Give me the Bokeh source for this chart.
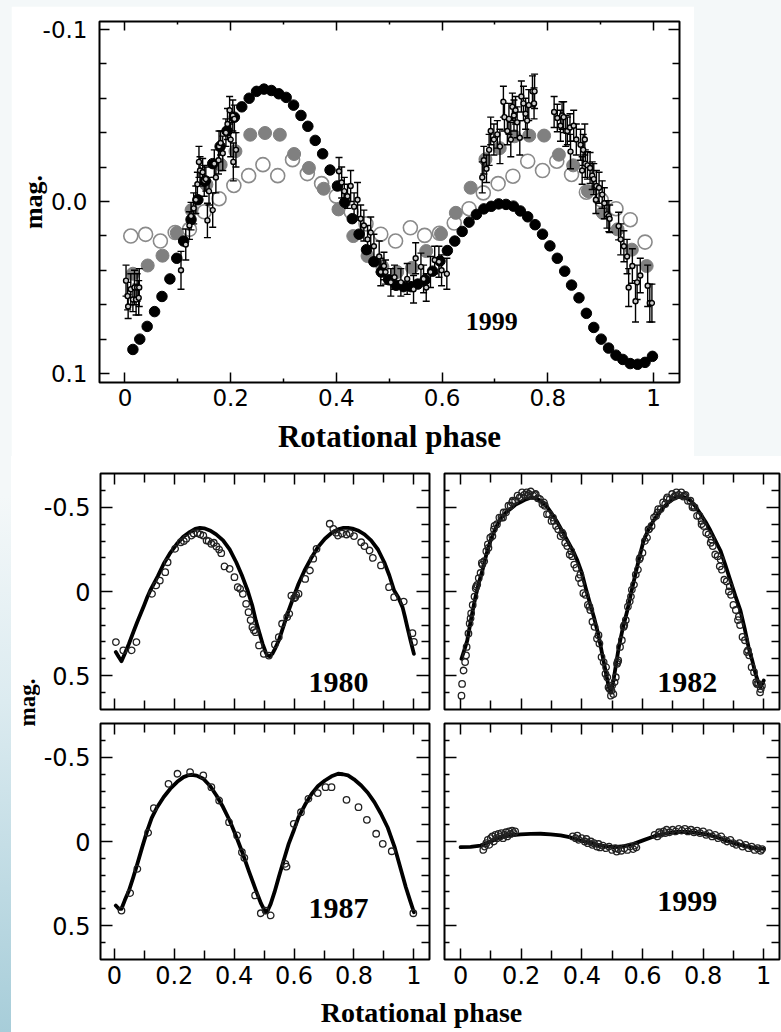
from bokeh.plotting import figure
from bokeh.models import Range1d, LinearAxis, FixedTicker, Spacer
from bokeh.layouts import row, column
from bokeh.embed import file_html
from bokeh.resources import INLINE
from bokeh.core.properties import value

# ---------------- DATA: top panel (1999, models) ----------------
top_black_phase = [0.015,0.028,0.042,0.056,0.070,0.085,0.098,0.111,0.125,0.138,0.152,0.166,0.180,0.193,0.207,
                   0.221,0.235,0.249,0.263,0.277,0.291,0.305,0.319,0.333,0.346,0.360,0.374,0.388,0.402,0.416,
                   0.430,0.443,0.457,0.471,0.485,0.499,0.513,0.527,0.541,0.554,0.568,0.582,0.596,0.610,0.624,
                   0.638,0.651,0.665,0.679,0.693,0.707,0.721,0.735,0.748,0.762,0.776,0.790,0.804,0.818,0.832,
                   0.845,0.859,0.873,0.887,0.901,0.915,0.929,0.942,0.956,0.970,0.984,0.998]
top_black_mag = [0.086,0.080,0.0726,0.064,0.0552,0.045,0.033,0.023,0.0105,-0.001,-0.012,-0.022,-0.032,-0.041,-0.049,
                 -0.055,-0.060,-0.064,-0.0653,-0.0645,-0.0626,-0.0605,-0.056,-0.050,-0.0437,-0.0355,-0.0277,-0.0183,-0.009,0.0005,
                 0.010,0.019,0.028,0.035,0.041,0.0455,0.0487,0.0495,0.0495,0.048,0.0455,0.0405,0.0346,0.0285,0.023,
                 0.0174,0.012,0.0075,0.0043,0.0028,0.0014,0.0017,0.0027,0.0055,0.0089,0.0135,0.019,0.0258,0.033,0.0405,
                 0.0486,0.056,0.065,0.0732,0.080,0.0852,0.0893,0.0918,0.0942,0.0946,0.0935,0.090]

top_gray_phase = [0.015,0.043,0.071,0.098,0.126,0.154,0.181,0.209,0.237,0.265,0.293,0.320,0.348,0.376,0.404,0.432,0.459,0.487,
                  0.515,0.543,0.570,0.598,0.626,0.654,0.682,0.709,0.737,0.765,0.793,0.821,0.848,0.876,0.904,0.932,0.959,0.987]
top_gray_mag = [0.042,0.0372,0.0315,0.0182,0.005,-0.0099,-0.0214,-0.0292,-0.0388,-0.0398,-0.0388,-0.0276,-0.0195,-0.0074,0.0046,0.0201,0.0317,0.038,
                0.041,0.0385,0.0288,0.0188,0.0066,-0.008,-0.0245,-0.031,-0.0379,-0.0383,-0.0383,-0.0272,-0.021,-0.006,0.0066,0.0162,0.028,0.0375]

top_open_phase = [0.011,0.039,0.067,0.095,0.122,0.150,0.178,0.206,0.234,0.261,0.289,0.317,0.345,0.372,0.400,0.428,0.456,0.484,
                  0.512,0.540,0.567,0.595,0.623,0.651,0.678,0.706,0.734,0.762,0.790,0.817,0.845,0.873,0.901,0.929,0.956,0.984]
top_open_mag = [0.0201,0.0191,0.023,0.018,0.0162,0.006,-0.0016,-0.0093,-0.015,-0.0214,-0.015,-0.0243,-0.0162,-0.0104,-0.0031,0.006,0.013,0.019,
                0.023,0.0153,0.0197,0.0185,0.0125,0.0042,-0.005,-0.0104,-0.0147,-0.0234,-0.018,-0.0234,-0.0157,-0.0054,-0.001,0.0042,0.0106,0.0236]

top_obs_phase = [0.002,0.005,0.006,0.011,0.015,0.018,0.021,0.023,0.026,0.027,
                 0.106,0.115,0.122,0.125,0.130,0.134,0.137,0.140,0.142,0.147,0.150,0.153,0.156,0.159,0.166,0.169,0.172,0.177,0.178,0.181,
                 0.185,0.191,0.194,0.198,0.200,0.204,0.205,0.207,0.210,
                 0.405,0.410,0.415,0.421,0.427,0.4335,0.440,0.446,0.452,0.459,0.465,0.471,0.481,0.484,0.490,0.493,0.503,0.510,0.522,0.534,
                 0.546,0.550,0.560,0.565,0.570,0.578,0.586,0.594,0.599,0.609,
                 0.676,0.679,0.684,0.689,0.692,0.698,0.7045,0.7095,0.716,0.718,0.7235,0.7265,0.730,0.733,0.736,0.739,0.742,0.747,0.750,
                 0.754,0.758,0.761,0.764,0.771,0.775,0.774,
                 0.812,0.818,0.824,0.827,0.830,0.834,0.837,0.842,0.843,0.849,0.854,0.862,0.865,0.867,0.870,0.871,0.875,0.880,0.884,0.887,
                 0.891,0.892,0.897,0.903,0.907,0.912,0.9155,0.917,0.934,0.938,0.944,0.950,0.953,0.960,0.966,0.969,0.975,0.989,0.993,0.997]
top_obs_mag = [0.046,0.055,0.061,0.051,0.057,0.050,0.057,0.050,0.056,0.050,
               0.040,0.025,0.014,0.0085,0.004,-0.001,-0.010,-0.023,-0.018,-0.017,-0.012,-0.013,0.011,-0.006,0.005,-0.022,-0.014,-0.024,-0.032,-0.034,
               -0.028,-0.040,-0.045,-0.053,-0.036,-0.050,-0.023,-0.048,-0.030,
               -0.0176,-0.011,-0.006,-0.003,-0.009,0.003,-0.001,0.010,0.014,0.022,0.018,0.026,0.032,0.041,0.0375,0.041,0.047,0.044,0.047,0.045,
               0.051,0.033,0.038,0.045,0.050,0.041,0.034,0.035,0.040,0.042,
               -0.014,-0.024,-0.019,-0.030,-0.041,-0.036,-0.039,-0.032,-0.058,-0.049,-0.041,-0.048,-0.036,-0.055,-0.050,-0.053,-0.046,-0.037,-0.061,
               -0.057,-0.051,-0.047,-0.056,-0.064,-0.064,-0.057,
               -0.052,-0.0485,-0.044,-0.050,-0.049,-0.041,-0.041,-0.043,-0.029,-0.044,-0.036,-0.033,-0.018,-0.030,-0.036,-0.022,-0.021,-0.0195,-0.015,-0.013,
               -0.001,-0.009,-0.008,-0.004,0.001,0.0075,0.0085,0.010,0.0143,0.022,0.026,0.032,0.050,0.0375,0.058,0.047,0.043,0.049,0.059,0.059]
top_obs_err = [0.009,0.008,0.007,0.009,0.007,0.010,0.009,0.008,0.010,0.011,
               0.011,0.009,0.008,0.008,0.009,0.008,0.007,0.009,0.008,0.008,0.009,0.007,0.010,0.008,0.010,0.008,0.009,0.008,0.009,0.007,
               0.010,0.008,0.009,0.008,0.010,0.009,0.011,0.008,0.010,
               0.008,0.009,0.008,0.007,0.009,0.008,0.010,0.008,0.009,0.008,0.009,0.007,0.009,0.008,0.008,0.007,0.008,0.007,0.008,0.009,
               0.008,0.009,0.008,0.008,0.008,0.009,0.008,0.009,0.009,0.009,
               0.009,0.008,0.008,0.009,0.008,0.009,0.008,0.010,0.009,0.008,0.008,0.009,0.010,0.008,0.009,0.008,0.009,0.010,0.009,
               0.010,0.009,0.010,0.009,0.009,0.010,0.009,
               0.009,0.008,0.009,0.008,0.009,0.009,0.008,0.008,0.010,0.009,0.009,0.009,0.008,0.009,0.009,0.008,0.008,0.009,0.008,0.009,
               0.008,0.009,0.009,0.008,0.009,0.008,0.009,0.008,0.008,0.009,0.009,0.010,0.011,0.010,0.012,0.010,0.010,0.012,0.011,0.011]

# ---------------- DATA: 1980 ----------------
m80_phase = [0.005,0.015,0.024,0.035,0.049,0.065,0.077,0.088,0.10,0.11,0.12,0.132,0.145,0.165,0.185,0.209,0.23,0.253,0.27,0.286,
             0.30,0.319,0.34,0.363,0.385,0.407,0.425,0.445,0.46,0.4725,0.485,0.495,0.505,0.511,0.518,0.5275,0.538,0.549,0.565,0.582,
             0.60,0.615,0.635,0.659,0.68,0.703,0.725,0.747,0.765,0.78,0.795,0.813,0.835,0.857,0.88,0.901,0.918,0.934,0.948,0.962,
             0.97,0.978,0.99,1.0]
m80_mag = [0.36,0.39,0.415,0.37,0.311,0.235,0.18,0.133,0.08,0.034,-0.006,-0.046,-0.09,-0.165,-0.225,-0.284,-0.325,-0.355,-0.372,-0.379,
           -0.376,-0.363,-0.34,-0.304,-0.25,-0.174,-0.10,-0.006,0.08,0.173,0.25,0.311,0.36,0.381,0.385,0.371,0.335,0.292,0.205,0.113,
           0.025,-0.046,-0.125,-0.204,-0.265,-0.314,-0.348,-0.37,-0.379,-0.379,-0.374,-0.363,-0.34,-0.304,-0.25,-0.174,-0.095,-0.006,0.035,0.093,
           0.15,0.212,0.30,0.371]
o80_phase = [0.0055,0.03,0.058,0.074,0.126,0.14,0.152,0.17,0.178,0.203,0.222,0.232,0.24,0.258,0.265,0.278,0.287,0.297,0.308,0.315,
             0.324,0.332,0.341,0.35,0.357,0.368,0.385,0.401,0.412,0.42,0.429,0.44,0.448,0.455,0.461,0.466,0.472,0.483,0.499,0.516,
             0.536,0.549,0.56,0.577,0.584,0.591,0.60,0.604,0.607,0.615,0.637,0.653,0.664,0.675,0.719,0.731,0.74,0.747,0.76,0.775,
             0.786,0.80,0.824,0.835,0.852,0.863,0.89,0.917,0.934,0.966,0.995,1.0]
o80_mag = [0.301,0.35,0.35,0.301,0.014,-0.036,-0.065,-0.115,-0.174,-0.254,-0.293,-0.30,-0.314,-0.333,-0.345,-0.347,-0.34,-0.333,-0.304,-0.30,
           -0.284,-0.29,-0.268,-0.25,-0.228,-0.149,-0.135,-0.085,-0.026,-0.016,0.014,0.073,0.123,0.17,0.212,0.23,0.242,0.321,0.371,0.381,
           0.315,0.272,0.192,0.153,0.133,0.024,0.04,0.034,0.02,0.014,-0.075,-0.125,-0.195,-0.254,-0.403,-0.373,-0.35,-0.333,-0.345,-0.339,
           -0.347,-0.33,-0.293,-0.27,-0.244,-0.2,-0.155,-0.026,0.034,0.06,0.248,0.30]

# ---------------- DATA: 1982 ----------------
m82_phase = [0.003,0.012,0.022,0.035,0.049,0.06,0.072,0.085,0.099,0.115,0.132,0.148,0.165,0.18,0.198,0.215,0.231,0.242,0.253,0.27,
             0.286,0.302,0.319,0.335,0.352,0.37,0.385,0.40,0.412,0.425,0.44,0.455,0.467,0.478,0.489,0.497,0.506,0.514,0.522,0.535,
             0.55,0.563,0.577,0.59,0.604,0.62,0.637,0.653,0.67,0.686,0.703,0.717,0.731,0.745,0.758,0.775,0.791,0.808,0.824,0.84,
             0.857,0.873,0.89,0.906,0.923,0.937,0.95,0.962,0.973,0.981,0.989,0.995,1.0]
m82_mag = [0.40,0.35,0.292,0.16,0.034,-0.05,-0.125,-0.22,-0.304,-0.375,-0.433,-0.467,-0.492,-0.515,-0.532,-0.548,-0.558,-0.557,-0.552,-0.53,
           -0.502,-0.46,-0.413,-0.36,-0.304,-0.245,-0.185,-0.11,-0.026,0.06,0.153,0.26,0.371,0.47,0.57,0.60,0.51,0.42,0.331,0.22,
           0.113,0.005,-0.105,-0.205,-0.304,-0.37,-0.423,-0.465,-0.502,-0.53,-0.552,-0.562,-0.565,-0.556,-0.542,-0.505,-0.462,-0.415,-0.363,-0.305,
           -0.244,-0.16,-0.065,0.025,0.113,0.22,0.331,0.41,0.49,0.535,0.57,0.55,0.53]
o82_phase = [0.003,0.005,0.010,0.015,0.020,0.026,0.030,0.035,0.040,0.046,0.050,0.055,0.060,0.066,0.072,0.078,0.085,0.092,0.098,0.105,
             0.112,0.120,0.128,0.135,0.142,0.150,0.158,0.165,0.172,0.180,0.188,0.195,0.203,0.210,0.218,0.225,0.232,0.240,0.248,0.255,
             0.262,0.270,0.278,0.285,0.292,0.300,0.308,0.315,0.322,0.330,0.338,0.345,0.352,0.360,0.368,0.375,0.382,0.390,0.398,0.405,
             0.412,0.420,0.428,0.435,0.442,0.450,0.458,0.465,0.472,0.478,0.484,0.488,0.492,0.496,0.500,0.504,0.508,0.512,0.516,0.520,
             0.526,0.532,0.538,0.545,0.552,0.558,0.565,0.572,0.578,0.585,0.592,0.600,0.608,0.615,0.622,0.630,0.638,0.645,0.652,0.660,
             0.668,0.675,0.682,0.690,0.698,0.705,0.712,0.720,0.728,0.735,0.742,0.750,0.758,0.765,0.772,0.780,0.788,0.795,0.802,0.810,
             0.818,0.825,0.832,0.840,0.848,0.855,0.862,0.870,0.878,0.885,0.892,0.900,0.908,0.915,0.922,0.930,0.938,0.945,0.952,0.960,
             0.968,0.975,0.982,0.988,0.994,
             0.018,0.033,0.052,0.070,0.090,0.110,0.140,0.170,0.200,0.222,0.245,0.275,0.305,0.335,0.365,0.395,0.425,0.455,0.480,0.498,
             0.518,0.540,0.562,0.590,0.620,0.650,0.680,0.710,0.738,0.765,0.795,0.828,0.858,0.888,0.918,0.948,0.978,0.990]
o82_mag = [0.62,0.55,0.47,0.42,0.33,0.25,0.19,0.13,0.08,0.03,-0.02,-0.04,-0.08,-0.11,-0.16,-0.18,-0.24,-0.26,-0.32,-0.33,
           -0.39,-0.40,-0.44,-0.44,-0.47,-0.47,-0.51,-0.51,-0.54,-0.54,-0.57,-0.56,-0.59,-0.575,-0.59,-0.58,-0.595,-0.57,-0.58,-0.555,
           -0.55,-0.52,-0.51,-0.46,-0.46,-0.42,-0.42,-0.39,-0.37,-0.33,-0.34,-0.29,-0.27,-0.22,-0.21,-0.16,-0.14,-0.08,-0.05,0.01,
           0.02,0.08,0.11,0.18,0.21,0.28,0.31,0.39,0.42,0.49,0.51,0.57,0.58,0.62,0.56,0.61,0.54,0.51,0.43,0.41,
           0.33,0.29,0.21,0.17,0.09,0.06,-0.01,-0.04,-0.10,-0.13,-0.20,-0.23,-0.30,-0.32,-0.37,-0.39,-0.44,-0.45,-0.49,-0.49,
           -0.53,-0.52,-0.56,-0.55,-0.58,-0.565,-0.59,-0.575,-0.59,-0.565,-0.575,-0.54,-0.54,-0.50,-0.50,-0.45,-0.45,-0.40,-0.39,-0.35,
           -0.34,-0.29,-0.27,-0.22,-0.21,-0.15,-0.13,-0.07,-0.06,0.00,0.02,0.08,0.11,0.17,0.20,0.27,0.29,0.36,0.38,0.45,
           0.48,0.54,0.55,0.60,0.56,
           0.38,0.16,-0.03,-0.17,-0.28,-0.37,-0.44,-0.53,-0.56,-0.57,-0.575,-0.53,-0.44,-0.35,-0.24,-0.10,0.09,0.26,0.45,0.59,
           0.42,0.20,0.03,-0.19,-0.37,-0.47,-0.55,-0.57,-0.57,-0.51,-0.42,-0.31,-0.19,-0.03,0.15,0.35,0.55,0.58]

# ---------------- DATA: 1987 ----------------
m87_phase = [0.005,0.015,0.024,0.035,0.049,0.063,0.077,0.093,0.11,0.125,0.143,0.165,0.187,0.21,0.231,0.245,0.258,0.275,0.297,0.32,
             0.341,0.363,0.385,0.407,0.429,0.45,0.473,0.49,0.505,0.512,0.522,0.535,0.549,0.565,0.582,0.60,0.615,0.637,0.659,0.68,
             0.703,0.725,0.747,0.763,0.780,0.80,0.824,0.846,0.868,0.89,0.912,0.935,0.956,0.973,0.987,1.0]
m87_mag = [0.381,0.40,0.40,0.35,0.292,0.215,0.133,0.035,-0.065,-0.14,-0.204,-0.265,-0.314,-0.355,-0.383,-0.393,-0.397,-0.392,-0.373,-0.33,
           -0.274,-0.205,-0.125,-0.03,0.073,0.18,0.292,0.37,0.421,0.41,0.371,0.30,0.212,0.115,0.014,-0.07,-0.145,-0.22,-0.284,-0.33,
           -0.363,-0.388,-0.403,-0.40,-0.393,-0.37,-0.333,-0.29,-0.234,-0.165,-0.085,0.03,0.163,0.272,0.35,0.421]
o87_phase = [0.024,0.053,0.077,0.113,0.132,0.181,0.211,0.253,0.297,0.324,0.35,0.383,0.41,0.426,0.434,0.47,0.489,0.505,0.522,
             0.571,0.575,0.599,0.623,0.648,0.679,0.705,0.725,0.775,0.815,0.843,0.874,0.896,0.926,0.998]
o87_mag = [0.411,0.307,0.163,-0.052,-0.198,-0.343,-0.403,-0.413,-0.393,-0.323,-0.244,-0.115,-0.036,0.064,0.097,0.321,0.427,0.411,0.44,
           0.133,0.150,-0.105,-0.174,-0.254,-0.288,-0.323,-0.323,-0.248,-0.204,-0.129,-0.046,0.014,0.058,0.427]

# ---------------- DATA: 1999 (bottom) ----------------
m99_phase = [0.0,0.033,0.066,0.1,0.132,0.165,0.198,0.231,0.264,0.297,0.33,0.363,0.396,0.43,0.462,0.505,0.54,0.571,0.604,0.637,
             0.67,0.703,0.73,0.758,0.79,0.824,0.857,0.89,0.923,0.956,0.98,1.0]
m99_mag = [0.034,0.032,0.024,0.0,-0.026,-0.036,-0.042,-0.045,-0.046,-0.042,-0.036,-0.024,-0.006,0.01,0.024,0.034,0.027,0.014,-0.008,-0.03,
           -0.045,-0.056,-0.058,-0.056,-0.048,-0.036,-0.018,0.004,0.02,0.034,0.04,0.044]
o99_phase = [0.075,0.08,0.085,0.09,0.095,0.10,0.105,0.11,0.115,0.12,0.125,0.13,0.135,0.14,0.145,0.15,0.155,0.16,0.165,0.17,0.175,0.18,
             0.37,0.38,0.385,0.39,0.40,0.41,0.415,0.42,0.43,0.435,0.44,0.45,0.455,0.46,0.47,0.48,0.49,0.50,0.51,0.515,0.52,0.53,
             0.54,0.55,0.56,0.57,0.575,0.58,
             0.64,0.65,0.655,0.66,0.67,0.675,0.68,0.69,0.70,0.71,0.72,0.73,0.74,0.75,0.76,0.77,0.78,0.79,0.80,0.81,0.82,0.83,
             0.84,0.85,0.86,0.87,0.88,0.89,0.90,0.91,0.92,0.93,0.94,0.95,0.96,0.97,0.98,0.99,0.995]
o99_mag = [0.05,0.03,0.01,-0.01,0.02,-0.02,-0.03,0.0,-0.04,-0.02,-0.045,-0.03,-0.05,-0.02,-0.04,-0.055,-0.03,-0.06,-0.045,-0.065,-0.05,-0.06,
           -0.03,-0.02,-0.035,-0.01,-0.02,0.0,-0.015,0.01,0.0,0.02,0.01,0.03,0.015,0.035,0.025,0.04,0.03,0.05,0.04,0.06,0.045,0.055,
           0.04,0.05,0.03,0.045,0.025,0.035,
           -0.04,-0.03,-0.055,-0.045,-0.06,-0.05,-0.07,-0.055,-0.07,-0.06,-0.075,-0.065,-0.075,-0.06,-0.07,-0.055,-0.065,-0.05,-0.06,-0.04,-0.05,-0.03,
           -0.04,-0.02,-0.03,-0.01,0.0,-0.01,0.01,0.02,0.01,0.03,0.02,0.04,0.03,0.05,0.04,0.055,0.045]

# ---------------- helpers ----------------
SANS = "DejaVu Sans"
SERIF = "Liberation Serif"


def make_axis(ticks, minor, tin, minor_in, labels=None, font_px=22, standoff=8):
    ax = LinearAxis(ticker=FixedTicker(ticks=ticks, minor_ticks=minor))
    ax.axis_line_color = None
    ax.major_tick_in = tin
    ax.major_tick_out = 0
    ax.minor_tick_in = minor_in
    ax.minor_tick_out = 0
    ax.major_tick_line_color = "black"
    ax.minor_tick_line_color = "black"
    ax.major_tick_line_width = 1.5
    ax.minor_tick_line_width = 1.5
    if labels is None:
        ax.major_label_overrides = {t: "" for t in ticks}
        ax.major_label_text_font_size = "0px"
        ax.major_label_standoff = 0
    else:
        ax.major_label_overrides = dict(zip(ticks, labels))
        ax.major_label_text_font = SANS
        ax.major_label_text_font_size = f"{font_px}px"
        ax.major_label_text_color = "black"
        ax.major_label_standoff = standoff
    return ax


def base_fig(w, h, xr, yr, bl, br, bt, bb):
    p = figure(width=w, height=h, x_range=Range1d(*xr), y_range=Range1d(*yr),
               output_backend="svg", toolbar_location=None,
               x_axis_location=None, y_axis_location=None,
               min_border_left=bl, min_border_right=br, min_border_top=bt, min_border_bottom=bb)
    p.grid.visible = False
    p.outline_line_color = "black"
    p.outline_line_width = 2
    p.background_fill_color = "white"
    p.border_fill_color = "white"
    return p


# ---------------- top figure ----------------
top = base_fig(683, 450, (-0.0482, 1.0492), (0.1052, -0.1046), 88, 15, 15, 73)
tx = [0, 0.2, 0.4, 0.6, 0.8, 1.0]
txm = [0.1, 0.3, 0.5, 0.7, 0.9]
ty = [-0.1, 0.0, 0.1]
tym = [-0.08, -0.06, -0.04, -0.02, 0.02, 0.04, 0.06, 0.08]
xb = make_axis(tx, txm, 10, 4, ["0", "0.2", "0.4", "0.6", "0.8", "1"], 23, 6)
xb.axis_label = "Rotational phase"
xb.axis_label_text_font = SERIF
xb.axis_label_text_font_style = "bold"
xb.axis_label_text_font_size = "31px"
xb.axis_label_text_color = "black"
xb.axis_label_standoff = 10
top.add_layout(xb, "below")
top.add_layout(make_axis(tx, txm, 9, 3), "above")
yl = make_axis(ty, tym, 10, 7, ["-0.1", "0.0", "0.1"], 23, 12)
yl.axis_label = "mag."
yl.axis_label_text_font = SERIF
yl.axis_label_text_font_style = "bold"
yl.axis_label_text_font_size = "26px"
yl.axis_label_text_color = "black"
yl.axis_label_standoff = -8
top.add_layout(yl, "left")
top.add_layout(make_axis(ty, tym, 11, 7), "right")

top.scatter(top_open_phase, top_open_mag, size=14, marker="circle", fill_color=None,
            line_color="#8a8a8a", line_width=1.6)
top.scatter(top_gray_phase, top_gray_mag, size=13, marker="circle", fill_color="#808080",
            line_color="#808080")
top.scatter(top_black_phase, top_black_mag, size=10.5, marker="circle", fill_color="black",
            line_color="black")
upper = [m - e for m, e in zip(top_obs_mag, top_obs_err)]
lower = [m + e for m, e in zip(top_obs_mag, top_obs_err)]
top.segment(top_obs_phase, upper, top_obs_phase, lower, line_color="black", line_width=1.4)
top.scatter(top_obs_phase, upper, marker="dash", size=7, line_color="black", line_width=1.4)
top.scatter(top_obs_phase, lower, marker="dash", size=7, line_color="black", line_width=1.4)
top.scatter(top_obs_phase, top_obs_mag, size=5, marker="circle", fill_color="#cccccc",
            line_color="black", line_width=1.4)
top.text(x=[0.694], y=[0.0696], text=["1999"], text_font=value(SERIF), text_font_style="bold",
         text_font_size="26px", text_align="center", text_baseline="middle", text_color="black")

# ---------------- bottom panels ----------------
bx = [0, 0.2, 0.4, 0.6, 0.8, 1.0]
bxm = [0.1, 0.3, 0.5, 0.7, 0.9]
bxl = ["0", "0.2", "0.4", "0.6", "0.8", "1"]
by = [-0.5, 0, 0.5]
bym = [-0.6, -0.4, -0.3, -0.2, -0.1, 0.1, 0.2, 0.3, 0.4, 0.6]
byl = ["-0.5", "0", "0.5"]
YR = (0.702, -0.702)


def panel(w, h, xr, bl, br, bt, bb, show_x, show_y):
    p = base_fig(w, h, xr, YR, bl, br, bt, bb)
    p.add_layout(make_axis(bx, bxm, 11, 9, bxl if show_x else None, 24, 6), "below")
    p.add_layout(make_axis(bx, bxm, 11, 9), "above")
    p.add_layout(make_axis(by, bym, 12, 5, byl if show_y else None, 24, 10), "left")
    p.add_layout(make_axis(by, bym, 13, 8), "right")
    return p


def draw(p, mp, mm, op, om, year, ly):
    p.line(mp, mm, line_color="black", line_width=3.8, line_join="round", line_cap="round")
    p.scatter(op, om, size=6.5, marker="circle", fill_color=None, line_color="#222222", line_width=1.3)
    p.text(x=[0.748], y=[ly], text=[year], text_font=value(SERIF), text_font_style="bold",
           text_font_size="30px", text_align="center", text_baseline="middle", text_color="black")


pa = panel(396, 260, (-0.046, 1.052), 56, 7, 17, 7, False, True)
draw(pa, m80_phase, m80_mag, o80_phase, o80_mag, "1980", 0.54)
pb = panel(345, 260, (-0.053, 1.052), 8, 2, 17, 7, False, False)
draw(pb, m82_phase, m82_mag, o82_phase, o82_mag, "1982", 0.54)
pc = panel(396, 279, (-0.046, 1.052), 56, 7, 7, 36, True, True)
draw(pc, m87_phase, m87_mag, o87_phase, o87_mag, "1987", 0.40)
pd = panel(345, 279, (-0.053, 1.052), 8, 2, 7, 36, True, False)
draw(pd, m99_phase, m99_mag, o99_phase, o99_mag, "1999", 0.357)


def blank_axis(label, size, standoff):
    ax = LinearAxis(ticker=FixedTicker(ticks=[]))
    ax.axis_line_color = None
    ax.major_tick_line_color = None
    ax.minor_tick_line_color = None
    ax.major_tick_in = 0
    ax.major_tick_out = 0
    ax.minor_tick_in = 0
    ax.minor_tick_out = 0
    ax.major_label_text_font_size = "0px"
    ax.major_label_standoff = 0
    ax.axis_label = label
    ax.axis_label_text_font = SERIF
    ax.axis_label_text_font_style = "bold"
    ax.axis_label_text_font_size = f"{size}px"
    ax.axis_label_text_color = "black"
    ax.axis_label_standoff = standoff
    return ax


def strip(w, h, bl, br, bt, bb):
    s = figure(width=w, height=h, x_range=Range1d(0, 1), y_range=Range1d(0, 1),
               output_backend="svg", toolbar_location=None,
               x_axis_location=None, y_axis_location=None,
               min_border_left=bl, min_border_right=br, min_border_top=bt, min_border_bottom=bb)
    s.grid.visible = False
    s.outline_line_color = None
    s.background_fill_color = "white"
    s.border_fill_color = "white"
    return s


# shared y label of the four lower panels (frame centred at y = 702)
left_strip = strip(29, 539, 27, 0, 0, 47)
left_strip.add_layout(blank_axis("mag.", 23, 1), "left")
# shared x label of the lower panels (frame centred at x = 421)
bottom_strip = strip(770, 37, 50, 0, 0, 36)
bottom_strip.add_layout(blank_axis("Rotational phase", 28, 0), "below")

top_block = row(Spacer(width=11, height=456), column(Spacer(width=683, height=6), top))
grid = column(row(pa, pb), row(pc, pd))
bottom_block = row(Spacer(width=11, height=576),
                   column(row(left_strip, grid), bottom_strip))
bg = ("linear-gradient(180deg, #f4f8f9 0%, #f4f8f9 48%, #dcebf0 68%, #a7cdd9 100%) left top / 11px 100% no-repeat, "
      "linear-gradient(180deg, #f4f8f9 0px, #f4f8f9 456px, #ffffff 456px, #ffffff 100%)")
root = column(top_block, bottom_block, spacing=0, styles={"background": bg})

open("out.html", "w").write(file_html(root, INLINE))
